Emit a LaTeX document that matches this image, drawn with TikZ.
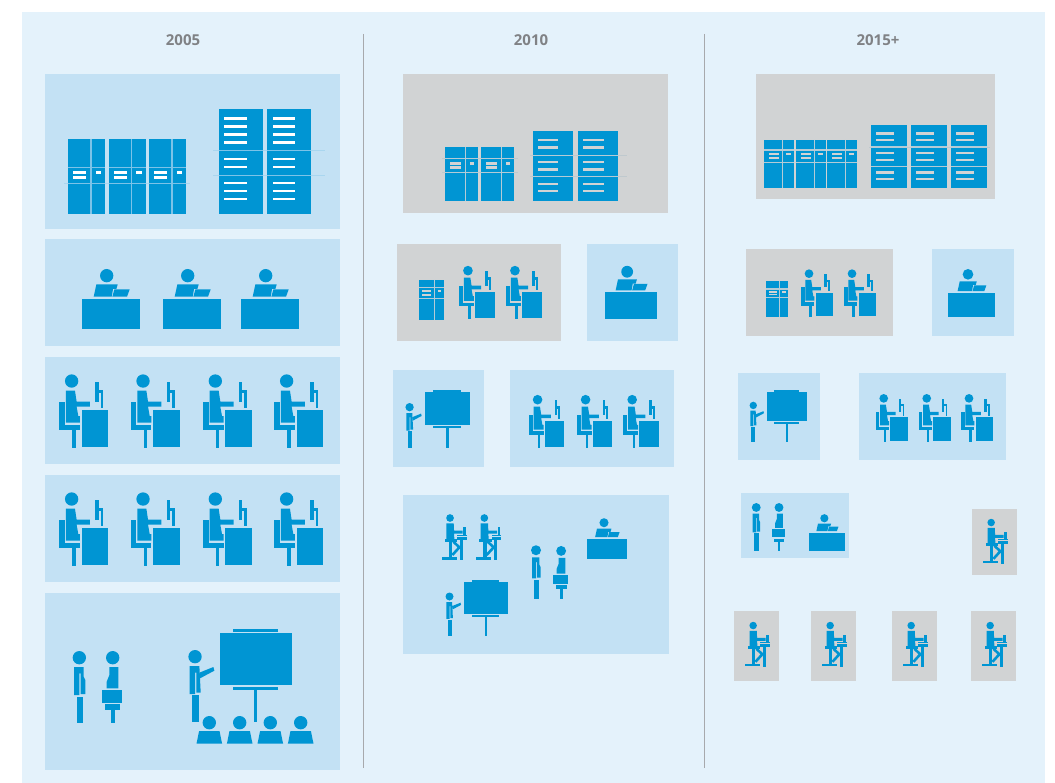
\documentclass[tikz,border=0pt]{standalone}
\usepackage{fontspec}
\setmainfont{Open Sans}
\definecolor{outerbg}{HTML}{E4F2FB}
\definecolor{panelblue}{HTML}{C3E1F4}
\definecolor{panelgrey}{HTML}{D1D3D4}
\definecolor{iconblue}{HTML}{0095D3}
\definecolor{gapblue}{HTML}{7CC3E8}
\definecolor{gapgrey}{HTML}{B4CBD6}
\definecolor{fadeblue}{HTML}{A9D6EF}
\definecolor{fadegrey}{HTML}{BFC9CE}
\definecolor{titlegrey}{HTML}{808285}
\definecolor{ruleg}{HTML}{A7A9AC}
\tikzset{
  ic/.style={fill=iconblue},
  bpanel/.style={fill=panelblue},
  gpanel/.style={fill=panelgrey},
  yeartitle/.style={font=\bfseries\fontsize{15}{15}\selectfont,text=titlegrey,inner sep=0pt,anchor=center},
  divider/.style={draw=ruleg,line width=0.9pt},
  fade/.style={line width=0.8pt}
}
% seated person at a desk: x = chair left, y = bottom
\newcommand{\seatedfig}[3]{\begin{scope}[shift={(#1,#2)},scale=#3/3]
  \fill[ic] (37,-200) circle[radius=20];
  \fill[ic] (20,-171)--(47,-171)--(52,-138)--(92,-138)--(92,-123)--(52,-123)--(57,-95)--(62,-95)--(62,-75)--(20,-75)--cycle;
  \fill[ic] (0,-137) rectangle (17,-53);
  \fill[ic] (0,-68) rectangle (62,-53);
  \fill[ic] (39,-53) rectangle (49,0);
  \fill[ic] (67,-113) rectangle (147,-3);
  \fill[ic] (108,-197) rectangle (118,-138);
  \fill[ic] (118,-173) rectangle (132,-163);
  \fill[ic] (124,-173) rectangle (132,-118);
\end{scope}}
% person with laptop behind a desk: x = desk left, y = bottom
\newcommand{\deskfig}[3]{\begin{scope}[shift={(#1,#2)},scale=#3/3]
  \fill[ic] (75,-160) circle[radius=20];
  \fill[ic] (44,-134)--(108,-134)--(104,-120)--(94,-120)--(90,-97)--(36,-97)--cycle;
  \fill[ic] (98,-119)--(144,-119)--(136,-97)--(92,-97)--cycle;
  \fill[ic] (0,-90) rectangle (176,0);
\end{scope}}
% standing man side view
\newcommand{\standman}[3]{\begin{scope}[shift={(#1,#2)},scale=#3/3]
  \fill[ic] (16,-195) circle[radius=20];
  \fill[ic] (0,-167)--(29,-167)--(29,-138)--(34,-128)--(34,-86)--(20,-86)--(20,-148)--(16,-148)--(16,-83)--(0,-83)--cycle;
  \fill[ic] (8,-78) rectangle (28,0);
\end{scope}}
% standing person behind a lectern
\newcommand{\standlect}[3]{\begin{scope}[shift={(#1,#2)},scale=#3/3]
  \fill[ic] (33,-195) circle[radius=20];
  \fill[ic] (23,-167)--(50,-167)--(50,-103)--(15,-103)--(15,-123)--(23,-143)--cycle;
  \fill[ic] (0,-98) rectangle (60,-60);
  \fill[ic] (11,-55) rectangle (55,-39);
  \fill[ic] (27,-39) rectangle (39,0);
\end{scope}}
% presenter with a board
\newcommand{\presenter}[3]{\begin{scope}[shift={(#1,#2)},scale=#3/3]
  \fill[ic] (16,-196) circle[radius=20];
  \fill[ic] (0,-168)--(29,-168)--(33,-88)--(20,-88)--(20,-148)--(16,-148)--(16,-84)--(0,-84)--cycle;
  \fill[ic] (6,-81) rectangle (28,0);
  \fill[ic] (29,-148)--(71,-165)--(74,-154)--(31,-131)--cycle;
  \fill[ic] (90,-267) rectangle (306,-111);
  \fill[ic] (129,-279) rectangle (265,-270);
  \fill[ic] (129,-106) rectangle (265,-96);
  \fill[ic] (193,-96) rectangle (203,-1);
\end{scope}}
% person at a standing desk: x = foot left, y = bottom
\newcommand{\standdesk}[3]{\begin{scope}[shift={(#1,#2)},scale=#3/3]
  \fill[ic] (25,-126) circle[radius=11.5];
  \fill[ic] (14,-110)--(36,-110)--(37,-88)--(63,-88)--(63,-79)--(37,-79)--(38,-63)--(14,-63)--cycle;
  \fill[ic] (10,-63) rectangle (47,-55);
  \fill[ic] (47,-75) rectangle (76,-72);
  \fill[ic] (47,-70) rectangle (76,-61);
  \fill[ic] (65,-98) rectangle (72,-75);
  \fill[ic] (54,-61) rectangle (63,0);
  \fill[ic] (0,-9) rectangle (45,-1);
  \fill[ic] (22,-55) rectangle (32,-9);
  \draw[iconblue,line width=2.6pt] (35,-55)--(53,-38)--(32,-15);
\end{scope}}
% server unit with a band: x,w,top,bottom,gap1,gap2,gapcolour,barcolour
\newcommand{\rackAunit}[8]{%
  \fill[ic] (#1,#3) rectangle ({#1+#2},#4);
  \draw[#7,line width=1.4pt] ({#1+.62*#2},#3)--({#1+.62*#2},#4);
  \draw[#7,line width=1.3pt] (#1,#5)--({#1+#2},#5);
  \draw[#7,line width=1.3pt] (#1,#6)--({#1+#2},#6);
  \pgfmathsetmacro{\bandh}{#6-#5}
  \fill[#8] ({#1+.15*#2},{#5+.25*\bandh}) rectangle ({#1+.5*#2},{#5+.43*\bandh});
  \fill[#8] ({#1+.15*#2},{#5+.55*\bandh}) rectangle ({#1+.5*#2},{#5+.73*\bandh});
  \fill[#8] ({#1+.745*#2},{#5+.25*\bandh}) rectangle ({#1+.886*#2},{#5+.43*\bandh});
}
% server column with shelves: x,w,top,bottom,gap1,gap2,gapcolour,barcolour,bar y list
\newcommand{\rackBcol}[9]{%
  \fill[ic] (#1,#3) rectangle ({#1+#2},#4);
  \draw[#7,line width=1.5pt] (#1,#5)--({#1+#2},#5);
  \draw[#7,line width=1.5pt] (#1,#6)--({#1+#2},#6);
  \foreach \by in {#9}{\fill[#8] ({#1+.13*#2},{\by-1.2}) rectangle ({#1+.64*#2},{\by+1.2});}
}
\begin{document}
\begin{tikzpicture}[x=1pt,y=-1pt]
\useasboundingbox (0,0) rectangle (1055,783);
\fill[white] (0,0) rectangle (1055,783);
\fill[outerbg] (22,12) rectangle (1045,783);
\node[yeartitle] (t2005) at (183,39.7) {2005};
\node[yeartitle] (t2010) at (531,39.7) {2010};
\node[yeartitle] (t2015) at (878,39.7) {2015+};
\coordinate (d1a) at (363,34); \coordinate (d1b) at (363,768);
\coordinate (d2a) at (704,34); \coordinate (d2b) at (704,768);
\draw[divider] (d1a)--(d1b);
\draw[divider] (d2a)--(d2b);
% ---------- panels
\fill[bpanel] (44.7,74) rectangle (340,229);
\fill[bpanel] (44.7,239) rectangle (340,346);
\fill[bpanel] (44.7,357) rectangle (340,464);
\fill[bpanel] (44.7,475) rectangle (340,582);
\fill[bpanel] (44.7,593) rectangle (340,770);
\fill[gpanel] (403,74) rectangle (668,213);
\fill[gpanel] (396.7,244) rectangle (561,341);
\fill[bpanel] (586.7,244) rectangle (678,341);
\fill[bpanel] (393,370) rectangle (484,467);
\fill[bpanel] (510,370) rectangle (674,467);
\fill[bpanel] (403,495) rectangle (668.5,654);
\fill[gpanel] (756,74) rectangle (995,199);
\fill[gpanel] (746,249) rectangle (893,336);
\fill[bpanel] (932,249) rectangle (1014,336);
\fill[bpanel] (738,373) rectangle (820,460);
\fill[bpanel] (859,373) rectangle (1006,460);
\fill[bpanel] (741,493) rectangle (849,558);
\fill[gpanel] (972,509) rectangle (1017,575);
\fill[gpanel] (734,611) rectangle (779,681);
\fill[gpanel] (811,611) rectangle (856,681);
\fill[gpanel] (892,611) rectangle (937,681);
\fill[gpanel] (971,611) rectangle (1016,681);
% ---------- 2005 racks
\draw[fadeblue,fade] (64,183.3)--(190,183.3);
\draw[fadeblue,fade] (213,150.3)--(325,150.3);
\draw[fadeblue,fade] (213,175.3)--(325,175.3);
\foreach \ux in {67.7,108.5,148.7}{\rackAunit{\ux}{37.5}{139}{214}{167.5}{183.3}{gapblue}{white}}
\foreach \ux in {218.7,267}{\rackBcol{\ux}{44}{109}{214}{150.3}{175.3}{gapblue}{white}{118.7,126.7,134.7,142.7,159,167,183,191,199}}
% 2005 desks
\deskfig{81.7}{329}{1}
\deskfig{162.7}{329}{1}
\deskfig{240.7}{329}{1}
% 2005 seated rows
\foreach \sx in {59.3,130.7,203,274.3}{\seatedfig{\sx}{447.7}{1}\seatedfig{\sx}{565.7}{1}}
% 2005 meeting
\standman{74}{722.7}{1}
\standlect{101.7}{722.7}{1}
\presenter{189.7}{722}{1}
\foreach \ax in {209.3,239.7,270.3,300.7}{
  \fill[ic] (\ax,722.7) circle[radius=6.7];
  \fill[ic] ({\ax-10.2},731)--({\ax+10.2},731)--({\ax+12.8},743.7)--({\ax-12.8},743.7)--cycle;
}
% ---------- 2010 racks
\draw[fadegrey,fade] (442,158.7)--(518,158.7);
\draw[fadegrey,fade] (442,172.3)--(518,172.3);
\draw[fadegrey,fade] (530,155.3)--(627,155.3);
\draw[fadegrey,fade] (530,176.7)--(627,176.7);
\foreach \ux in {444.7,480.7}{\rackAunit{\ux}{33.3}{147}{201}{158.7}{172.3}{gapgrey}{panelgrey}}
\foreach \ux in {532.7,578}{\rackBcol{\ux}{40}{131}{201}{155.3}{176.7}{gapgrey}{panelgrey}{140.3,147.7,162.3,169.7,184,191.3}}
% 2010 row 2
\rackAunit{418.7}{25.3}{280}{320}{287.3}{298.7}{gapgrey}{panelgrey}
\seatedfig{459}{319}{.725}
\seatedfig{506}{319}{.725}
\deskfig{605}{319}{.886}
% 2010 row 3
\presenter{406.25}{448}{.625}
\seatedfig{528.7}{447.7}{.72}
\seatedfig{576.7}{447.7}{.72}
\seatedfig{623.3}{447.7}{.72}
% 2010 row 4
\standdesk{441.7}{560}{1}
\standdesk{476}{560}{1}
\presenter{446.3}{635.7}{.6}
\standman{532}{599}{.75}
\standlect{553}{599}{.74}
\deskfig{587}{559}{.68}
% ---------- 2015 racks
\draw[fadegrey,fade] (869,147)--(990,147);
\foreach \ux in {764,796,827}{\rackAunit{\ux}{30}{140}{188}{150}{162.4}{gapgrey}{panelgrey}}
\foreach \ux in {871,911,951}{\rackBcol{\ux}{36}{125}{188}{147}{166.3}{gapgrey}{panelgrey}{133.7,140.3,153.3,160,172.7,179.3}}
% 2015 row 2
\rackAunit{766}{22}{281}{317}{289}{297.3}{gapgrey}{panelgrey}
\seatedfig{801}{317}{.65}
\seatedfig{844}{317}{.65}
\deskfig{948}{317}{.8}
% 2015 row 3
\presenter{750.3}{441.7}{.555}
\seatedfig{875.7}{441.7}{.65}
\seatedfig{918.7}{441.7}{.65}
\seatedfig{961}{441.7}{.65}
% 2015 row 4
\standman{752.7}{550.7}{.665}
\standlect{771.7}{550.7}{.665}
\deskfig{809}{551}{.614}
\standdesk{983}{563.7}{.98}
% 2015 row 5
\standdesk{745}{666.7}{.98}
\standdesk{822}{666.7}{.98}
\standdesk{903}{666.7}{.98}
\standdesk{982}{666.7}{.98}
\end{tikzpicture}
\end{document}
